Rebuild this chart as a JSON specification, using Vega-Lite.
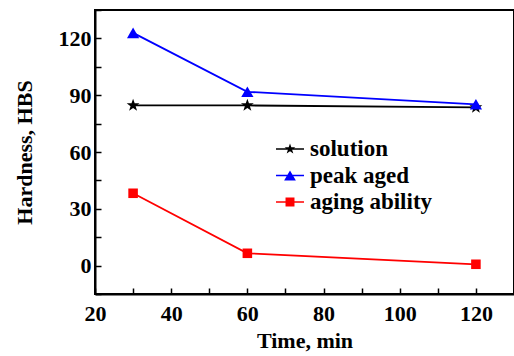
{
  "$schema": "https://vega.github.io/schema/vega-lite/v6.json",
  "width": 419,
  "height": 284,
  "autosize": {"type": "none"},
  "padding": {"left": 95, "top": 10, "right": 0, "bottom": 62},
  "background": "white",
  "config": {
    "view": {"stroke": "black", "strokeWidth": 2},
    "font": "Liberation Serif",
    "axis": {
      "grid": false,
      "domainColor": "black",
      "domainWidth": 2,
      "tickColor": "black",
      "tickWidth": 1.5,
      "labelFont": "Liberation Serif",
      "labelFontSize": 22,
      "labelFontWeight": "bold",
      "labelColor": "black",
      "titleFont": "Liberation Serif",
      "titleFontSize": 22,
      "titleFontWeight": "bold",
      "titleColor": "black"
    }
  },
  "data": {
    "values": [
      {"series": "solution", "time": 30, "hardness": 84.6},
      {"series": "solution", "time": 60, "hardness": 84.6},
      {"series": "solution", "time": 120, "hardness": 83.6},
      {"series": "peak aged", "time": 30, "hardness": 122.9},
      {"series": "peak aged", "time": 60, "hardness": 91.8},
      {"series": "peak aged", "time": 120, "hardness": 85.2},
      {"series": "aging ability", "time": 30, "hardness": 38.2},
      {"series": "aging ability", "time": 60, "hardness": 6.5},
      {"series": "aging ability", "time": 120, "hardness": 0.7}
    ]
  },
  "encoding": {
    "x": {
      "field": "time",
      "type": "quantitative",
      "scale": {"domain": [20, 130], "nice": false, "zero": false},
      "axis": {
        "title": "Time, min",
        "values": [20, 30, 40, 50, 60, 70, 80, 90, 100, 110, 120, 130],
        "labelExpr": "datum.value % 20 === 0 && datum.value <= 120 ? datum.label : ''",
        "tickSize": -6,
        "labelPadding": 15,
        "titlePadding": 6,
        "labelFlush": false,
        "encode": {"ticks": {"update": {"y2": {"signal": "datum.value % 20 === 0 ? -6 : -3"}}}}
      }
    },
    "y": {
      "field": "hardness",
      "type": "quantitative",
      "scale": {"domain": [-15, 135], "nice": false, "zero": false},
      "axis": {
        "title": "Hardness, HBS",
        "values": [-15, 0, 15, 30, 45, 60, 75, 90, 105, 120, 135],
        "labelExpr": "datum.value % 30 === 0 ? datum.label : ''",
        "tickSize": -6,
        "labelPadding": 10,
        "titlePadding": 22,
        "labelFlush": false,
        "encode": {
          "ticks": {"update": {"x2": {"signal": "datum.value % 30 === 0 ? 6 : 3"}}},
          "labels": {"update": {"dx": {"value": 5}}}
        }
      }
    },
    "color": {
      "field": "series",
      "type": "nominal",
      "scale": {"domain": ["solution", "peak aged", "aging ability"], "range": ["black", "#0000ff", "#ff0000"]},
      "legend": {
        "title": null,
        "orient": "none",
        "legendX": 181,
        "legendY": 125,
        "symbolSize": 784,
        "symbolStrokeWidth": 0,
        "symbolOpacity": 1,
        "labelFont": "Liberation Serif",
        "labelFontSize": 23,
        "labelFontWeight": "bold",
        "labelColor": "black",
        "labelOffset": 6,
        "rowPadding": 0.5
      }
    }
  },
  "layer": [
    {
      "mark": {"type": "line", "strokeWidth": 1.8}
    },
    {
      "transform": [{"filter": "datum.series === 'solution'"}],
      "mark": {"type": "point", "filled": true, "opacity": 1, "size": 150, "shape": "M0,-1.1L0.259,-0.356L1.046,-0.340L0.418,0.136L0.647,0.890L0,0.44L-0.647,0.890L-0.418,0.136L-1.046,-0.340L-0.259,-0.356Z"}
    },
    {
      "transform": [{"filter": "datum.series === 'peak aged'"}],
      "mark": {"type": "point", "filled": true, "opacity": 1, "size": 150, "shape": "triangle-up"}
    },
    {
      "transform": [{"filter": "datum.series === 'aging ability'"}],
      "mark": {"type": "point", "filled": true, "opacity": 1, "size": 150, "shape": "M-0.78,-0.78H0.78V0.78H-0.78Z"}
    },
    {
      "mark": {"type": "point", "filled": true, "opacity": 1, "size": 0},
      "encoding": {
        "shape": {
          "field": "series",
          "type": "nominal",
          "scale": {
            "domain": ["solution", "peak aged", "aging ability"],
            "range": [
              "M-1,-0.06H1V0.06H-1ZM0,-0.4L0.094,-0.13L0.38,-0.124L0.152,0.05L0.235,0.324L0,0.16L-0.235,0.324L-0.152,0.05L-0.38,-0.124L-0.094,-0.13Z",
              "M-1,-0.06H1V0.06H-1ZM0,-0.36L0.42,0.36L-0.42,0.36Z",
              "M-1,-0.06H1V0.06H-1ZM-0.32,-0.32H0.32V0.32H-0.32Z"
            ]
          }
        }
      }
    }
  ]
}
